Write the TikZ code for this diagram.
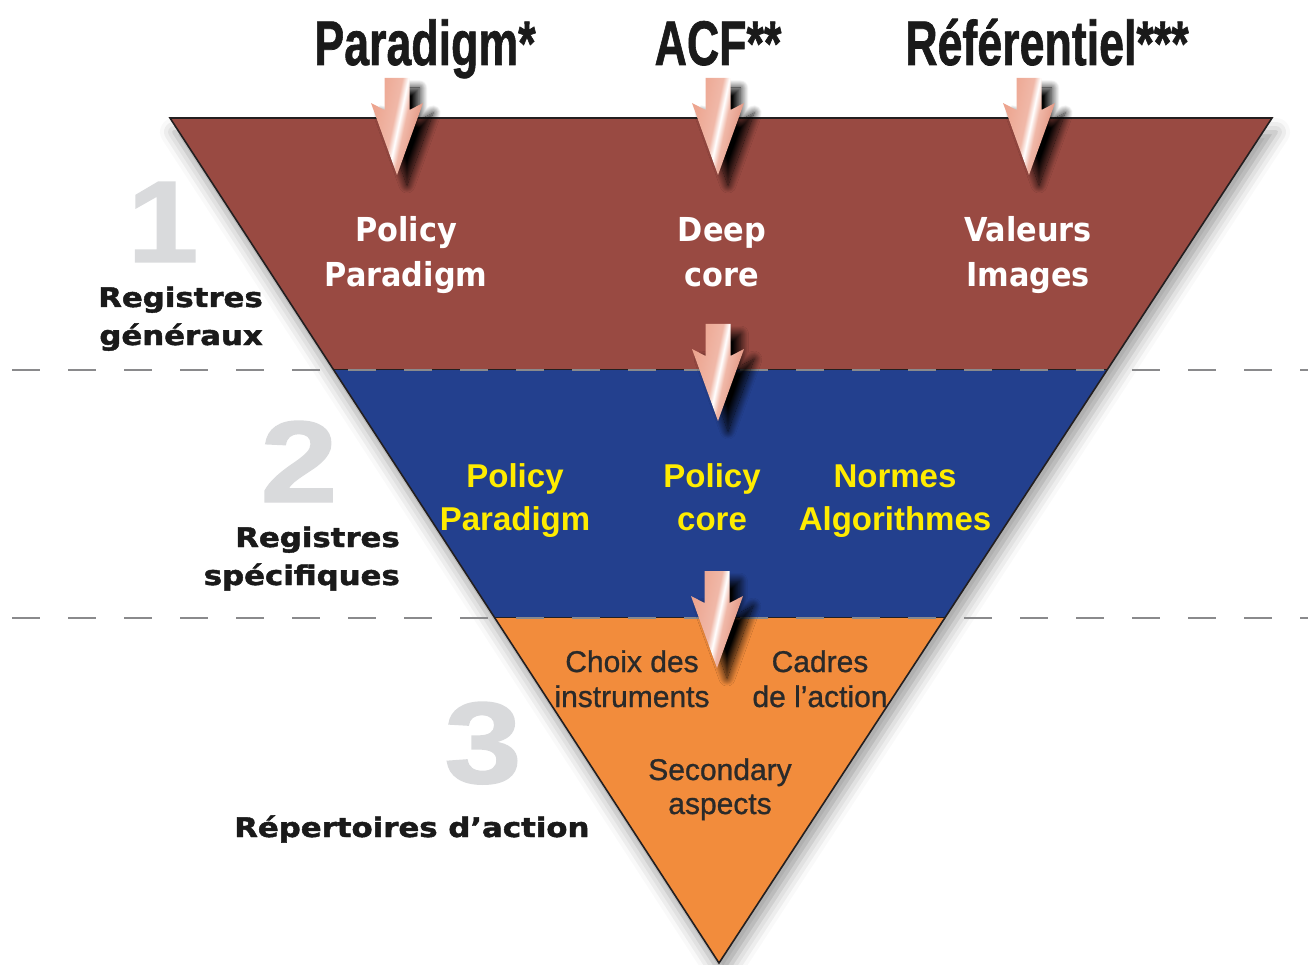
\documentclass[tikz,border=0pt]{standalone}
\usepackage{fontspec}
\setmainfont{Liberation Sans}
\newfontfamily\lsans{Liberation Sans}
\newfontfamily\lsansmed{Liberation Sans}[BoldFont={Liberation Sans}, BoldFeatures={FakeBold=0.9}]
\newfontfamily\djsans{DejaVu Sans}
\newfontfamily\djheavy{DejaVu Sans}[BoldFeatures={FakeBold=1.6}]
\newfontfamily\lheavy{Liberation Sans}[BoldFeatures={FakeBold=1.2}]
\usetikzlibrary{calc,shadows.blur}
\definecolor{brownc}{RGB}{153,74,66}
\definecolor{bluec}{RGB}{35,64,142}
\definecolor{orangec}{RGB}{242,140,60}
\definecolor{numgray}{RGB}{217,218,220}
\definecolor{edgec}{RGB}{35,31,32}
\definecolor{dashc}{RGB}{138,138,140}
\definecolor{inkc}{RGB}{26,26,26}
\definecolor{orinkc}{RGB}{42,42,42}
\definecolor{yelc}{RGB}{255,236,0}
\definecolor{salmA}{RGB}{236,162,140}
\definecolor{salmB}{RGB}{240,184,168}
\definecolor{salmC}{RGB}{220,134,112}
\pgfdeclarehorizontalshading{arrowshade}{100bp}{color(0bp)=(salmA); color(25bp)=(salmA); color(46bp)=(salmB); color(51bp)=(white); color(56bp)=(salmB); color(75bp)=(salmC); color(100bp)=(salmC)}
\newcommand{\sx}[2]{\scalebox{#1}[1]{#2}}
\newcommand{\pdarrow}[2]{%
  \shade[arrowbody] (#1-12.5,#2-97) -- (#1+12.5,#2-97) -- (#1+12.5,#2-65) -- (#1+26,#2-72) -- (#1,#2) -- (#1-26,#2-72) -- (#1-12.5,#2-65) -- cycle;}
\tikzset{
  arrowbody/.style={shading=arrowshade, shading angle=-12,
    blur shadow={shadow xshift=10pt, shadow yshift=-10pt, shadow blur radius=8pt, shadow opacity=100, shadow blur steps=20}},
  txt/.style={inner sep=0pt, anchor=base},
  titletxt/.style={txt, text=inkc, font=\lheavy\bfseries\fontsize{63}{63}\selectfont},
  whitetxt/.style={txt, text=white, font=\djsans\bfseries\fontsize{33}{33}\selectfont},
  yeltxt/.style={txt, text=yelc, font=\lsans\bfseries\fontsize{33}{33}\selectfont},
  ortxt/.style={txt, text=orinkc, font=\lsansmed\bfseries\fontsize{30}{30}\selectfont},
  sidetxt/.style={txt, text=inkc, font=\djheavy\bfseries\fontsize{27}{27}\selectfont},
  numtxt/.style={txt, text=numgray, font=\lheavy\bfseries\fontsize{116}{116}\selectfont},
  divider/.style={dashc, line width=2pt, dash pattern=on 28pt off 28pt},
}
\begin{document}
\begin{tikzpicture}[x=1pt,y=-1pt]
\useasboundingbox (0,0) rectangle (1308,965);
% triangle geometry
\coordinate (TL) at (170,118);
\coordinate (TR) at (1272,118);
\coordinate (TP) at (719,963);
\coordinate (L1) at ($(TL)!0.2982!(TP)$);
\coordinate (R1) at ($(TR)!0.2982!(TP)$);
\coordinate (L2) at ($(TL)!0.5917!(TP)$);
\coordinate (R2) at ($(TR)!0.5917!(TP)$);
% bands
\fill[brownc, blur shadow={shadow xshift=4pt, shadow yshift=-14pt, shadow blur radius=14pt, shadow opacity=38}] (TL) -- (TR) -- (TP) -- cycle;
\fill[bluec] (L1) -- (R1) -- (R2) -- (L2) -- cycle;
\fill[orangec] (L2) -- (R2) -- (TP) -- cycle;
\draw[edgec, line width=1pt] (L1) -- (R1) (L2) -- (R2);
\draw[edgec, line width=1.6pt, line join=miter] (TL) -- (TR) -- (TP) -- cycle;
% dividers
\coordinate (D1a) at (12,370); \coordinate (D1b) at (1308,370);
\coordinate (D2a) at (12,618); \coordinate (D2b) at (1308,618);
\draw[divider] (D1a) -- (D1b);
\draw[divider] (D2a) -- (D2b);
% arrows
\pdarrow{397}{175}
\pdarrow{718}{175}
\pdarrow{1029}{175}
\pdarrow{718}{421}
\pdarrow{717}{668}
% numbers
\node[numtxt] (n1) at (163,262) {\sx{1.1}{1}};
\node[numtxt] (n2) at (299,502) {\sx{1.2}{2}};
\node[numtxt] (n3) at (483,783) {\sx{1.2}{3}};
% titles
\node[titletxt] (tpar) at (425,65) {\sx{0.71}{Paradigm*}};
\node[titletxt] (tacf) at (718,65) {\sx{0.71}{ACF**}};
\node[titletxt] (tref) at (1047,65) {\sx{0.71}{Référentiel***}};
% band 1
\node[whitetxt] (b1a1) at (406,242) {\sx{0.92}{Policy}};
\node[whitetxt] (b1a2) at (406,287) {\sx{0.92}{Paradigm}};
\node[whitetxt] (b1b1) at (722,242) {\sx{0.92}{Deep}};
\node[whitetxt] (b1b2) at (722,287) {\sx{0.92}{core}};
\node[whitetxt] (b1c1) at (1028,242) {\sx{0.92}{Valeurs}};
\node[whitetxt] (b1c2) at (1028,287) {\sx{0.92}{Images}};
% band 2
\node[yeltxt] (b2a1) at (515,487) {Policy};
\node[yeltxt] (b2a2) at (515,530) {Paradigm};
\node[yeltxt] (b2b1) at (712,487) {Policy};
\node[yeltxt] (b2b2) at (712,530) {core};
\node[yeltxt] (b2c1) at (895,487) {Normes};
\node[yeltxt] (b2c2) at (895,530) {Algorithmes};
% band 3
\node[ortxt] (b3a1) at (632,672) {Choix des};
\node[ortxt] (b3a2) at (632,707) {instruments};
\node[ortxt] (b3b1) at (820,672) {Cadres};
\node[ortxt] (b3b2) at (820,707) {de l’action};
\node[ortxt] (b3c1) at (720,780) {Secondary};
\node[ortxt] (b3c2) at (720,814) {aspects};
% side labels
\node[sidetxt, anchor=base east] (s1a) at (263,307) {\sx{1.14}{Registres}};
\node[sidetxt, anchor=base east] (s1b) at (263,345) {\sx{1.14}{généraux}};
\node[sidetxt, anchor=base east] (s2a) at (400,547) {\sx{1.14}{Registres}};
\node[sidetxt, anchor=base east] (s2b) at (400,585) {\sx{1.14}{spécifiques}};
\node[sidetxt, anchor=base west] (s3) at (234,837) {\sx{1.14}{Répertoires d’action}};
\end{tikzpicture}
\end{document}
